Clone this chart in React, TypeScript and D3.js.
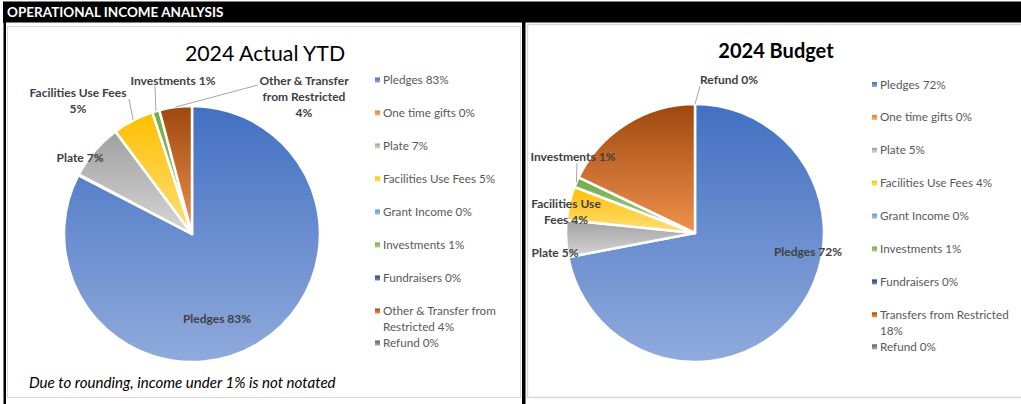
import React from "react";
import * as d3 from "d3";

// ---------- data ----------
const leftTitle = "2024 Actual YTD";
const leftNames = [
  "Pledges",
  "One time gifts",
  "Plate",
  "Facilities Use Fees",
  "Grant Income",
  "Investments",
  "Fundraisers",
  "Other & Transfer from Restricted",
  "Refund",
];
const leftValues = [82.6, 0.1, 7.1, 5.2, 0, 0.9, 0, 4.1, 0];

const rightTitle = "2024 Budget";
const rightNames = [
  "Pledges",
  "One time gifts",
  "Plate",
  "Facilities Use Fees",
  "Grant Income",
  "Investments",
  "Fundraisers",
  "Transfers from Restricted",
  "Refund",
];
const rightValues = [72.0, 0, 4.6, 4.2, 0, 1.3, 0, 17.9, 0];

const headerText = "OPERATIONAL INCOME ANALYSIS";
const noteText = "Due to rounding, income under 1% is not notated";

// ---------- styles ----------
const sliceTop = ["#4270C2", "#ED7D31", "#A0A0A0", "#FFBE00", "#5B9BD5", "#6EAB45", "#264478", "#9E480E", "#636363"];
const sliceBottom = ["#90AADC", "#F4B183", "#D6D6D6", "#FFDF7A", "#9DC3E6", "#A9D18E", "#6E8CC8", "#F0914E", "#A6A6A6"];

const FONT = "Lato, 'Open Sans', sans-serif";

// label layout: index of category, offset of label centre from pie centre, wrap width, leader start
type LabelCfg = { i: number; dx: number; dy: number; wrap: number; anchor?: string; leader?: [number, number] };
const leftLabels: LabelCfg[] = [
  { i: 0, dx: 25, dy: 85, wrap: 200 },
  { i: 2, dx: -112, dy: -76, wrap: 200 },
  { i: 3, dx: -114, dy: -133, wrap: 110, leader: [-63, -135] },
  { i: 5, dx: -19, dy: -153, wrap: 200, leader: [-37, -148] },
  { i: 7, dx: 112, dy: -137, wrap: 100, leader: [66, -149] },
];
const rightLabels: LabelCfg[] = [
  { i: 8, dx: 5, dy: -153, wrap: 200, anchor: "start", leader: [5, -147] },
  { i: 5, dx: -122, dy: -76, wrap: 200, leader: [-118, -70] },
  { i: 3, dx: -129, dy: -21, wrap: 85 },
  { i: 2, dx: -140, dy: 20, wrap: 200 },
  { i: 0, dx: 113, dy: 19, wrap: 200 },
];

let ctx: CanvasRenderingContext2D | null = null;
function measure(text: string, font: string) {
  if (!ctx) ctx = document.createElement("canvas").getContext("2d");
  if (!ctx) return text.length * 6;
  ctx.font = font;
  return ctx.measureText(text).width;
}
function wrap(text: string, width: number, font: string) {
  const words = text.split(" ");
  const lines: string[] = [];
  let cur = "";
  for (const w of words) {
    const t = cur ? cur + " " + w : w;
    if (cur && measure(t, font) > width) {
      lines.push(cur);
      cur = w;
    } else cur = t;
  }
  if (cur) lines.push(cur);
  return lines;
}

const pct = (values: number[], i: number) => Math.round((values[i] / d3.sum(values)) * 100);

function Pie({ cx, cy, r, names, values, labels }: { cx: number; cy: number; r: number; names: string[]; values: number[]; labels: LabelCfg[] }) {
  const pie = d3.pie<number>().sort(null).value((d) => d)(values);
  const arc = d3.arc<d3.PieArcDatum<number>>().innerRadius(0).outerRadius(r);
  const labelFont = `bold 12px Lato`;
  return (
    <g transform={`translate(${cx},${cy})`}>
      {pie.map((p, i) =>
        p.value > 0 ? (
          <path key={i} d={arc(p) || ""} fill={`url(#grad${i})`} stroke="#fff" strokeWidth={2.5} strokeLinejoin="round" />
        ) : null
      )}
      {labels.map((l, k) => {
        const p = pie[l.i];
        const mid = (p.startAngle + p.endAngle) / 2;
        const ex = r * Math.sin(mid);
        const ey = -r * Math.cos(mid);
        const text = `${names[l.i]} ${pct(values, l.i)}%`;
        const lines = wrap(text, l.wrap, labelFont);
        const lh = 16;
        const y0 = l.dy - ((lines.length - 1) * lh) / 2;
        return (
          <g key={k}>
            {l.leader ? <line x1={l.leader[0]} y1={l.leader[1]} x2={ex} y2={ey} stroke="#A6A6A6" strokeWidth={1} /> : null}
            <text
              x={l.dx}
              y={y0}
              textAnchor={l.anchor || "middle"}
              fontFamily={FONT}
              fontWeight="bold"
              fontSize={12}
              fill="#404040"
            >
              {lines.map((ln, j) => (
                <tspan key={j} x={l.dx} y={y0 + j * lh} dy="0.35em">
                  {ln}
                </tspan>
              ))}
            </text>
          </g>
        );
      })}
    </g>
  );
}

function Legend({ x, y0, step, wrapW, names, values }: { x: number; y0: number; step: number; wrapW: number; names: string[]; values: number[] }) {
  const font = "12px Lato";
  const lh = 16;
  let y = y0;
  const items = names.map((n, i) => {
    const lines = wrap(`${n} ${pct(values, i)}%`, wrapW, font);
    const it = { i, lines, y };
    y += lines.length > 1 ? lines.length * lh : step;
    return it;
  });
  return (
    <g>
      {items.map((it) => (
        <g key={it.i}>
          <rect x={x - 8} y={it.y - 2.5} width={5} height={5} fill={`url(#grad${it.i})`} />
          <text fontFamily={FONT} fontSize={11.7} fill="#595959">
            {it.lines.map((ln, j) => (
              <tspan key={j} x={x} y={it.y + j * lh} dy="0.35em">
                {ln}
              </tspan>
            ))}
          </text>
        </g>
      ))}
    </g>
  );
}

export default function App() {
  const W = 1021;
  const H = 404;
  return (
    <svg width={W} height={H} style={{ position: "absolute", left: 0, top: 0, display: "block", background: "#fff" }}>
      <defs>
        {sliceTop.map((c, i) => (
          <linearGradient key={i} id={`grad${i}`} x1="0" y1="0" x2="0" y2="1">
            <stop offset="0%" stopColor={c} />
            <stop offset="100%" stopColor={sliceBottom[i]} />
          </linearGradient>
        ))}
      </defs>
      <rect x={0} y={0} width={W} height={H} fill="#fff" />
      {/* chart areas */}
      <rect x={7.5} y={26.5} width={513} height={371} fill="#fff" stroke="#D9D9D9" strokeWidth={1} />
      <rect x={527.5} y={24.5} width={495} height={373} fill="#fff" stroke="#D9D9D9" strokeWidth={1.5} />
      {/* header */}
      <rect x={3} y={1.5} width={W - 3} height={21} fill="#000" />
      <text x={7} y={17} fill="#fff" fontFamily={FONT} fontWeight="bold" fontSize={13.5}>
        {headerText}
      </text>
      <rect x={3.5} y={22} width={2.5} height={H - 22} fill="#000" />
      <rect x={522} y={22} width={3.5} height={H - 22} fill="#000" />

      {/* left chart */}
      <text x={265} y={61} textAnchor="middle" fontFamily={FONT} fontSize={21.3} fill="#000">
        {leftTitle}
      </text>
      <Pie cx={192} cy={234} r={128} names={leftNames} values={leftValues} labels={leftLabels} />
      <Legend x={383} y0={80} step={33} wrapW={132} names={leftNames} values={leftValues} />
      <text x={29} y={388} fontFamily={FONT} fontStyle="italic" fontSize={15.1} fill="#000">
        {noteText}
      </text>

      {/* right chart */}
      <text x={776} y={58} textAnchor="middle" fontFamily={FONT} fontWeight="bold" fontSize={20}>
        {rightTitle}
      </text>
      <Pie cx={695} cy={233} r={129} names={rightNames} values={rightValues} labels={rightLabels} />
      <Legend x={880} y0={84.5} step={32.9} wrapW={150} names={rightNames} values={rightValues} />
    </svg>
  );
}
